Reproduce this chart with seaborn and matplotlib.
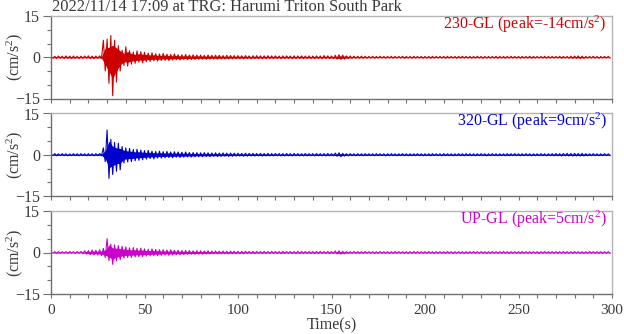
import numpy as np
import pandas as pd
import matplotlib
matplotlib.use("Agg")
import matplotlib.pyplot as plt
import seaborn as sns
from matplotlib.ticker import MultipleLocator

# Start time of each 2-second envelope bin (s)
time_bins = np.arange(0, 300, 2)

# Envelope of the acceleration record, cm/s^2 (max / min within each bin)
ns_upper = [
    0.40, 0.35, 0.45, 0.40, 0.50, 0.40, 0.45, 0.35, 0.40, 0.45,
    0.50, 0.40, 0.45, 0.50, 6.20, 6.60, 7.90, 6.20, 4.20, 2.60,
    3.80, 2.40, 1.90, 2.30, 2.00, 1.80, 1.50, 1.60, 1.30, 1.20,
    1.40, 1.10, 1.00, 1.20, 0.90, 0.90, 1.00, 0.80, 0.90, 0.80,
    0.80, 0.70, 0.80, 0.70, 0.75, 0.70, 0.60, 0.70, 0.65, 0.60,
    0.60, 0.55, 0.60, 0.50, 0.55, 0.60, 0.50, 0.50, 0.55, 0.50,
    0.50, 0.45, 0.50, 0.50, 0.45, 0.50, 0.45, 0.50, 0.45, 0.50,
    0.45, 0.50, 0.45, 0.60, 0.50, 0.45, 0.70, 0.90, 0.80, 0.50,
    0.45, 0.40, 0.35, 0.40, 0.35, 0.30, 0.35, 0.30, 0.35, 0.30,
    0.30, 0.35, 0.30, 0.30, 0.35, 0.30, 0.30, 0.35, 0.30, 0.30,
    0.30, 0.30, 0.35, 0.30, 0.30, 0.30, 0.35, 0.30, 0.30, 0.30,
    0.35, 0.30, 0.30, 0.30, 0.35, 0.30, 0.30, 0.30, 0.30, 0.35,
    0.30, 0.30, 0.30, 0.35, 0.30, 0.30, 0.30, 0.30, 0.35, 0.30,
    0.30, 0.30, 0.35, 0.30, 0.30, 0.30, 0.35, 0.30, 0.30, 0.40,
    0.45, 0.50, 0.40, 0.30, 0.30, 0.35, 0.30, 0.30, 0.30, 0.30,
]
ns_lower = [
    -0.40, -0.45, -0.35, -0.45, -0.40, -0.50, -0.40, -0.45, -0.40, -0.35,
    -0.45, -0.50, -0.40, -0.45, -5.00, -9.50, -14.0, -9.00, -5.00, -3.00,
    -3.20, -2.50, -2.20, -1.80, -2.00, -1.60, -1.50, -1.30, -1.40, -1.20,
    -1.10, -1.20, -1.00, -0.90, -1.00, -0.80, -0.90, -0.80, -0.80, -0.75,
    -0.70, -0.75, -0.70, -0.65, -0.70, -0.60, -0.65, -0.60, -0.60, -0.55,
    -0.55, -0.60, -0.50, -0.55, -0.50, -0.50, -0.55, -0.50, -0.45, -0.50,
    -0.45, -0.50, -0.45, -0.45, -0.50, -0.45, -0.45, -0.50, -0.45, -0.45,
    -0.50, -0.45, -0.50, -0.45, -0.50, -0.50, -0.70, -0.80, -0.70, -0.45,
    -0.40, -0.35, -0.40, -0.35, -0.35, -0.30, -0.35, -0.30, -0.30, -0.35,
    -0.30, -0.35, -0.30, -0.30, -0.35, -0.30, -0.35, -0.30, -0.30, -0.35,
    -0.30, -0.35, -0.30, -0.30, -0.30, -0.35, -0.30, -0.30, -0.35, -0.30,
    -0.30, -0.30, -0.35, -0.30, -0.30, -0.35, -0.30, -0.30, -0.30, -0.35,
    -0.30, -0.35, -0.30, -0.30, -0.30, -0.35, -0.30, -0.30, -0.35, -0.30,
    -0.30, -0.30, -0.35, -0.30, -0.30, -0.30, -0.35, -0.30, -0.35, -0.40,
    -0.40, -0.45, -0.40, -0.30, -0.30, -0.30, -0.35, -0.30, -0.30, -0.30,
]
ew_upper = [
    0.35, 0.40, 0.35, 0.40, 0.35, 0.30, 0.40, 0.35, 0.40, 0.35,
    0.40, 0.35, 0.40, 0.45, 2.50, 9.00, 5.60, 4.50, 4.20, 3.00,
    2.50, 2.30, 1.90, 2.00, 1.70, 1.50, 1.60, 1.30, 1.20, 1.30,
    1.10, 1.20, 1.00, 1.10, 1.00, 0.90, 1.00, 0.80, 0.80, 0.75,
    0.70, 0.75, 0.70, 0.65, 0.70, 0.60, 0.65, 0.60, 0.60, 0.55,
    0.55, 0.50, 0.55, 0.50, 0.50, 0.45, 0.50, 0.45, 0.50, 0.45,
    0.45, 0.45, 0.40, 0.45, 0.40, 0.45, 0.40, 0.40, 0.45, 0.40,
    0.40, 0.45, 0.40, 0.40, 0.45, 0.40, 0.60, 0.70, 0.50, 0.40,
    0.40, 0.35, 0.40, 0.35, 0.40, 0.35, 0.35, 0.40, 0.35, 0.35,
    0.35, 0.40, 0.35, 0.35, 0.40, 0.35, 0.35, 0.35, 0.40, 0.35,
    0.35, 0.35, 0.40, 0.35, 0.35, 0.40, 0.35, 0.35, 0.35, 0.40,
    0.35, 0.40, 0.35, 0.35, 0.35, 0.40, 0.35, 0.35, 0.40, 0.35,
    0.35, 0.35, 0.40, 0.35, 0.40, 0.35, 0.35, 0.40, 0.35, 0.35,
    0.35, 0.40, 0.35, 0.35, 0.40, 0.45, 0.40, 0.45, 0.50, 0.45,
    0.50, 0.45, 0.50, 0.40, 0.35, 0.40, 0.35, 0.35, 0.40, 0.35,
]
ew_lower = [
    -0.35, -0.40, -0.35, -0.35, -0.40, -0.35, -0.35, -0.40, -0.35, -0.40,
    -0.35, -0.40, -0.35, -0.40, -2.50, -8.60, -7.20, -6.00, -5.50, -3.00,
    -2.60, -2.50, -2.20, -2.00, -1.80, -1.60, -1.40, -1.50, -1.20, -1.20,
    -1.10, -1.00, -1.10, -0.90, -1.00, -0.90, -0.80, -0.85, -0.75, -0.70,
    -0.70, -0.65, -0.70, -0.60, -0.65, -0.60, -0.55, -0.60, -0.55, -0.50,
    -0.50, -0.55, -0.50, -0.45, -0.50, -0.45, -0.50, -0.45, -0.45, -0.45,
    -0.40, -0.45, -0.45, -0.40, -0.45, -0.40, -0.40, -0.45, -0.40, -0.40,
    -0.45, -0.40, -0.40, -0.45, -0.40, -0.40, -0.55, -0.70, -0.50, -0.40,
    -0.35, -0.40, -0.35, -0.40, -0.35, -0.35, -0.40, -0.35, -0.35, -0.40,
    -0.35, -0.35, -0.40, -0.35, -0.35, -0.40, -0.35, -0.35, -0.35, -0.40,
    -0.35, -0.40, -0.35, -0.35, -0.40, -0.35, -0.35, -0.40, -0.35, -0.35,
    -0.40, -0.35, -0.35, -0.40, -0.35, -0.35, -0.40, -0.35, -0.35, -0.40,
    -0.35, -0.40, -0.35, -0.35, -0.35, -0.40, -0.35, -0.35, -0.40, -0.35,
    -0.35, -0.35, -0.40, -0.35, -0.40, -0.40, -0.45, -0.40, -0.45, -0.50,
    -0.45, -0.50, -0.45, -0.40, -0.35, -0.35, -0.40, -0.35, -0.35, -0.35,
]
ud_upper = [
    0.30, 0.30, 0.35, 0.30, 0.30, 0.35, 0.30, 0.35, 0.40, 0.60,
    0.70, 0.90, 0.80, 1.00, 1.50, 5.00, 3.00, 2.80, 2.50, 2.20,
    2.00, 1.70, 1.80, 1.50, 1.60, 1.30, 1.20, 1.30, 1.10, 1.00,
    1.00, 0.90, 1.00, 0.80, 0.80, 0.70, 0.75, 0.70, 0.60, 0.65,
    0.60, 0.55, 0.60, 0.50, 0.55, 0.50, 0.50, 0.45, 0.50, 0.45,
    0.45, 0.40, 0.45, 0.40, 0.40, 0.40, 0.35, 0.40, 0.35, 0.40,
    0.35, 0.35, 0.40, 0.35, 0.35, 0.35, 0.40, 0.35, 0.35, 0.35,
    0.35, 0.35, 0.40, 0.35, 0.35, 0.35, 0.55, 0.60, 0.45, 0.35,
    0.30, 0.35, 0.30, 0.30, 0.35, 0.30, 0.30, 0.30, 0.35, 0.30,
    0.30, 0.30, 0.35, 0.30, 0.30, 0.30, 0.30, 0.35, 0.30, 0.30,
    0.30, 0.35, 0.30, 0.30, 0.30, 0.30, 0.35, 0.30, 0.30, 0.30,
    0.30, 0.30, 0.30, 0.35, 0.30, 0.30, 0.30, 0.30, 0.35, 0.30,
    0.30, 0.35, 0.30, 0.30, 0.30, 0.30, 0.35, 0.30, 0.30, 0.30,
    0.30, 0.30, 0.35, 0.30, 0.30, 0.30, 0.30, 0.35, 0.30, 0.30,
    0.35, 0.30, 0.30, 0.30, 0.35, 0.30, 0.30, 0.30, 0.30, 0.30,
]
ud_lower = [
    -0.30, -0.35, -0.30, -0.30, -0.35, -0.30, -0.35, -0.30, -0.40, -0.60,
    -0.80, -0.90, -0.90, -1.10, -1.80, -3.00, -4.30, -3.00, -2.60, -2.00,
    -1.80, -1.80, -1.60, -1.50, -1.50, -1.30, -1.20, -1.10, -1.10, -1.00,
    -0.90, -1.00, -0.90, -0.80, -0.80, -0.75, -0.70, -0.65, -0.65, -0.60,
    -0.60, -0.55, -0.55, -0.50, -0.50, -0.50, -0.45, -0.50, -0.45, -0.45,
    -0.45, -0.45, -0.40, -0.40, -0.40, -0.35, -0.40, -0.35, -0.35, -0.35,
    -0.35, -0.40, -0.35, -0.35, -0.35, -0.40, -0.35, -0.35, -0.35, -0.35,
    -0.40, -0.35, -0.35, -0.35, -0.40, -0.35, -0.50, -0.60, -0.45, -0.35,
    -0.30, -0.30, -0.35, -0.30, -0.30, -0.30, -0.35, -0.30, -0.30, -0.30,
    -0.35, -0.30, -0.30, -0.30, -0.30, -0.35, -0.30, -0.30, -0.30, -0.30,
    -0.30, -0.30, -0.35, -0.30, -0.30, -0.30, -0.30, -0.35, -0.30, -0.30,
    -0.35, -0.30, -0.30, -0.30, -0.30, -0.30, -0.35, -0.30, -0.30, -0.30,
    -0.30, -0.30, -0.35, -0.30, -0.30, -0.35, -0.30, -0.30, -0.30, -0.30,
    -0.35, -0.30, -0.30, -0.30, -0.30, -0.35, -0.30, -0.30, -0.30, -0.35,
    -0.30, -0.30, -0.35, -0.30, -0.30, -0.30, -0.30, -0.35, -0.30, -0.30,
]

components = ["230-GL", "320-GL", "UP-GL"]
uppers = [ns_upper, ew_upper, ud_upper]
lowers = [ns_lower, ew_lower, ud_lower]
colors = ["#cc0000", "#0000cc", "#cc00cc"]

title = "2022/11/14 17:09 at TRG: Harumi Triton South Park"
unit_label = "(cm/s$^2$)"
xlabel = "Time(s)"

sns.set_theme(style="ticks")
plt.rcParams["font.family"] = ["Liberation Serif", "DejaVu Serif"]
plt.rcParams["mathtext.fontset"] = "custom"
plt.rcParams["mathtext.rm"] = "Liberation Serif"
plt.rcParams["mathtext.it"] = "Liberation Serif:italic"
plt.rcParams["text.color"] = "#3a3a3a"
plt.rcParams["axes.labelcolor"] = "#3a3a3a"

W, H = 624, 334
fig = plt.figure(figsize=(W / 100, H / 100), dpi=100)
fig.patch.set_facecolor("white")

left, right = 51, 612
panel_px = [(16, 98.5), (113.5, 196), (211, 294)]
FS = 11.5
TICK_FS = 11
CORE = 0.55  # share of each swing drawn as the solid body of the trace


def trace_frame(upper, lower):
    """Alternate each bin's max and min so the record draws as a dense trace."""
    t = np.column_stack([time_bins, time_bins + 1]).ravel()
    a = np.column_stack([np.asarray(upper), np.asarray(lower)]).ravel()
    return pd.DataFrame({"time": t, "acc": a})


for i, (name, up, lo, col) in enumerate(zip(components, uppers, lowers, colors)):
    top, bot = panel_px[i]
    ax = fig.add_axes([left / W, 1 - bot / H, (right - left) / W, (bot - top) / H])

    # solid body of the trace, then the full swings stroked over it
    mid = time_bins + 1.0
    ax.fill_between(mid, CORE * np.asarray(lo), CORE * np.asarray(up),
                    color=col, lw=0)
    df = trace_frame(up, lo)
    sns.lineplot(data=df, x="time", y="acc", ax=ax, color=col, lw=0.8,
                 estimator=None, sort=False, legend=False)

    ax.set_xlim(0, 300)
    ax.set_ylim(-15, 15)
    ax.set_yticks([-15, 0, 15])
    ax.yaxis.set_minor_locator(MultipleLocator(5))
    ax.xaxis.set_major_locator(MultipleLocator(50))
    ax.xaxis.set_minor_locator(MultipleLocator(10))
    ax.tick_params(axis="y", which="major", direction="out", length=6, width=0.8,
                   color="#707070", labelsize=FS, labelcolor="#3a3a3a", pad=2)
    ax.tick_params(axis="y", which="minor", direction="out", length=3, width=0.8,
                   color="#707070")
    ax.tick_params(axis="x", which="both", direction="out", length=3, width=0.8,
                   color="#707070", labelsize=TICK_FS, labelcolor="#3a3a3a", pad=4)
    for side in ("top", "right"):
        ax.spines[side].set_color("#b4b4b4")
        ax.spines[side].set_linewidth(1.0)
    for side in ("left", "bottom"):
        ax.spines[side].set_color("#707070")
        ax.spines[side].set_linewidth(1.0)

    ax.set_ylabel(unit_label, fontsize=FS)
    ax.yaxis.label.set_va("center")
    ax.yaxis.set_label_coords(-(left - 15) / (right - left), 0.5)

    if i < 2:
        ax.set_xlabel("")
        ax.tick_params(axis="x", labelbottom=False)
    else:
        ax.set_xlabel(xlabel, fontsize=FS)
        ax.xaxis.label.set_va("center")
        ax.xaxis.set_label_coords(0.5, -(325.5 - bot) / (bot - top))

    vals = np.concatenate([up, lo])
    peak = vals[np.argmax(np.abs(vals))]
    ax.text(0.991, 0.90, f"{name} (peak={peak:.0f}cm/s$^2$)", transform=ax.transAxes,
            ha="right", va="center", color=col, fontsize=FS)

fig.text(52 / W, 1 - 7 / H, title, ha="left", va="center", fontsize=11.9,
         color="#3a3a3a")

fig.savefig("out.png", dpi=100, facecolor="white")
